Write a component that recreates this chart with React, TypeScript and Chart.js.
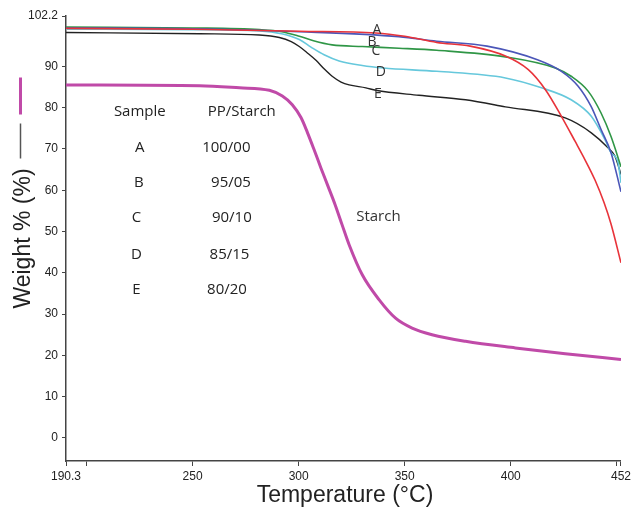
import { useEffect, useRef } from "react";
import { Chart, registerables } from "chart.js";

Chart.register(...registerables);

// ---- Data ----
const starchT = [190.3, 253.3, 272.1, 286.2, 292.3, 297.0, 301.1, 304.2, 307.3, 310.5, 313.6, 317.2, 320.5, 323.8, 330.0, 337.9, 345.7, 353.5, 362.9, 378.7, 402.2, 425.7, 452];
const starchW = [85.5, 85.3, 84.8, 84.2, 82.8, 80.7, 77.6, 73.9, 69.8, 65.4, 61.3, 56.5, 51.6, 46.8, 39.5, 33.5, 29.0, 26.6, 25.0, 23.4, 21.8, 20.4, 19.0];

const aT = [190.3, 250, 300.3, 336.4, 350, 365.1, 380.9, 397.5, 408.3, 416.3, 423.9, 430.4, 435.1, 439.8, 444.0, 447.3, 452];
const aW = [99.2, 99.0, 98.5, 98.1, 97.3, 95.8, 94.9, 92.5, 89.2, 84.4, 77.9, 71.8, 67.3, 62.4, 57.0, 51.8, 42.4];

const bT = [190.3, 250, 300.3, 347.3, 365.1, 388.8, 412.6, 423.9, 431.8, 437.9, 442.6, 447.3, 452];
const bW = [99.3, 99.1, 98.4, 97.2, 96.1, 94.9, 91.6, 88.8, 85.2, 80.3, 74.7, 69.1, 59.6];

const cT = [190.3, 250, 281.5, 292, 300.3, 307, 315.8, 330, 347.3, 365.1, 397.5, 421, 428.5, 436.5, 442.6, 447.3, 452];
const cW = [99.5, 99.3, 98.9, 98.4, 97.3, 96.2, 95.2, 94.8, 94.4, 93.9, 92.3, 89.6, 87.6, 84.0, 78.7, 73.0, 65.7];

const dT = [190.3, 250, 281.5, 292, 300.3, 306, 312, 319.1, 330, 340, 365.1, 397.5, 414.5, 428.5, 438.0, 444.5, 447.3, 450.6, 452];
const dW = [99.0, 98.9, 98.6, 97.9, 96.5, 94.6, 92.8, 91.3, 90.2, 89.6, 88.8, 87.2, 84.8, 81.9, 77.9, 72.2, 69.1, 66.7, 61.8];

const eT = [190.3, 253.3, 281.5, 290.9, 296.5, 300.3, 304.0, 308.3, 312.0, 315.8, 320.0, 323.8, 331.7, 336.4, 356.7, 378.7, 397.5, 425.7, 438.0, 446.0, 449.2, 452];
const eW = [98.2, 97.9, 97.6, 97.0, 96.0, 94.8, 93.3, 91.4, 89.4, 87.6, 86.2, 85.5, 84.8, 84.2, 83.0, 81.9, 80.2, 77.5, 73.9, 70.2, 68.2, 63.8];

const xTickValues = [190.3, 200, 250, 300, 350, 400, 450, 452];
const xTickLabels = ["190.3", "", "250", "300", "350", "400", "", "452"];
const yTickValues = [0, 10, 20, 30, 40, 50, 60, 70, 80, 90, 102.2];
const yTickLabels = ["0", "10", "20", "30", "40", "50", "60", "70", "80", "90", "102.2"];

// table (legend) text, placed in data coordinates
const tableSamples = ["A", "B", "C", "D", "E"];
const tableRatios = ["100/00", "95/05", "90/10", "85/15", "80/20"];
const tableRowW = [70.3, 61.8, 53.3, 44.4, 35.9];
const tableSampleT = [225.1, 224.7, 223.5, 223.5, 223.5];
const tableRatioT = [265.9, 268.1, 268.5, 267.4, 266.2];
const tableHeaders = ["Sample", "PP/Starch"];
const tableHeaderT = [225.1, 273.2];
const tableHeaderW = 79.0;

// curve labels
const curveLabels = ["A", "B", "C", "D", "E", "Starch"];
const curveLabelT = [336.9, 334.6, 336.4, 338.8, 337.4, 337.6];
const curveLabelW = [98.9, 96.0, 93.6, 88.7, 83.2, 53.6];

const zip = (t: number[], w: number[]) => t.map((x, i) => ({ x, y: w[i] }));

export default function App() {
  const ref = useRef<HTMLCanvasElement | null>(null);

  useEffect(() => {
    if (!ref.current) return;
    const textPlugin = {
      id: "texts",
      afterDraw(chart: any) {
        const { ctx, scales } = chart;
        const x = scales.x;
        const y = scales.y;
        ctx.save();
        ctx.fillStyle = "#222";
        ctx.textAlign = "center";
        ctx.textBaseline = "middle";
        ctx.font = "15px 'Open Sans'";
        tableHeaders.forEach((t, i) => {
          ctx.fillText(t, x.getPixelForValue(tableHeaderT[i]), y.getPixelForValue(tableHeaderW));
        });
        tableSamples.forEach((t, i) => {
          ctx.fillText(t, x.getPixelForValue(tableSampleT[i]), y.getPixelForValue(tableRowW[i]));
          ctx.fillText(tableRatios[i], x.getPixelForValue(tableRatioT[i]), y.getPixelForValue(tableRowW[i]));
        });
        ctx.fillStyle = "#333";
        curveLabels.forEach((t, i) => {
          ctx.font = t === "Starch" ? "15px 'Open Sans'" : "14px 'Open Sans'";
          ctx.fillText(t, x.getPixelForValue(curveLabelT[i]), y.getPixelForValue(curveLabelW[i]));
        });
        // y axis title with line markers
        const cy = (chart.chartArea.top + chart.chartArea.bottom) / 2;
        ctx.save();
        ctx.translate(24, cy);
        ctx.rotate(-Math.PI / 2);
        ctx.font = "23px 'Liberation Sans'";
        ctx.fillStyle = "#222";
        ctx.fillText("Weight % (%)", 0, 0);
        ctx.restore();
        ctx.lineCap = "butt";
        ctx.strokeStyle = "#c04aa8";
        ctx.lineWidth = 3;
        ctx.beginPath();
        ctx.moveTo(20.5, cy - 161);
        ctx.lineTo(20.5, cy - 124);
        ctx.stroke();
        ctx.strokeStyle = "#555";
        ctx.lineWidth = 1.5;
        ctx.beginPath();
        ctx.moveTo(20.5, cy - 115);
        ctx.lineTo(20.5, cy - 80);
        ctx.stroke();
        ctx.restore();
      },
    };

    const mk = (label: string, t: number[], w: number[], color: string, width: number) => ({
      label,
      data: zip(t, w),
      borderColor: color,
      backgroundColor: color,
      borderWidth: width,
      showLine: true,
      pointRadius: 0,
      cubicInterpolationMode: "monotone" as const,
      fill: false,
    });

    const chart = new Chart(ref.current, {
      type: "scatter",
      data: {
        datasets: [
          mk("A", aT, aW, "#e8333a", 1.6),
          mk("B", bT, bW, "#4b56b8", 1.6),
          mk("C", cT, cW, "#2f9646", 1.6),
          mk("D", dT, dW, "#66c8dc", 1.6),
          mk("E", eT, eW, "#222222", 1.4),
          mk("Starch", starchT, starchW, "#c04aa8", 3),
        ],
      },
      options: {
        animation: false,
        responsive: false,
        layout: { padding: { top: 16, right: 11, left: 0, bottom: 0 } },
        plugins: { legend: { display: false }, tooltip: { enabled: false } },
        scales: {
          x: {
            type: "linear",
            min: 190.3,
            max: 452,
            afterBuildTicks: (s: any) => {
              s.ticks = xTickValues.map((v) => ({ value: v }));
            },
            afterFit: (s: any) => {
              s.height = 48;
            },
            ticks: {
              autoSkip: false,
              maxRotation: 0,
              padding: 3,
              color: "#222",
              font: { family: "'Liberation Sans'", size: 12 },
              callback: (_v: any, i: number) => xTickLabels[i],
            },
            grid: { drawOnChartArea: false, drawTicks: true, tickLength: 5, color: "#444" },
            border: { color: "#444", width: 1.5 },
          },
          y: {
            type: "linear",
            min: -5.6,
            max: 102.2,
            afterBuildTicks: (s: any) => {
              s.ticks = yTickValues.map((v) => ({ value: v }));
            },
            afterFit: (s: any) => {
              s.width = 66;
            },
            ticks: {
              autoSkip: false,
              padding: 4,
              color: "#222",
              font: { family: "'Liberation Sans'", size: 12 },
              callback: (_v: any, i: number) => yTickLabels[i],
            },
            grid: { drawOnChartArea: false, drawTicks: true, tickLength: 4, color: "#444" },
            border: { color: "#444", width: 1.5 },
          },
        },
      },
      plugins: [textPlugin],
    } as any);

    return () => chart.destroy();
  }, []);

  return (
    <div style={{ position: "absolute", left: 0, top: 0, width: 634, height: 509, background: "#fff" }}>
      <canvas ref={ref} width={634} height={509} style={{ display: "block" }} />
      <div
        style={{
          position: "absolute",
          left: 0,
          width: 690,
          top: 480,
          textAlign: "center",
          font: "23px 'Liberation Sans'",
          color: "#222",
          lineHeight: "28px",
        }}
      >
        Temperature (°C)
      </div>
    </div>
  );
}
